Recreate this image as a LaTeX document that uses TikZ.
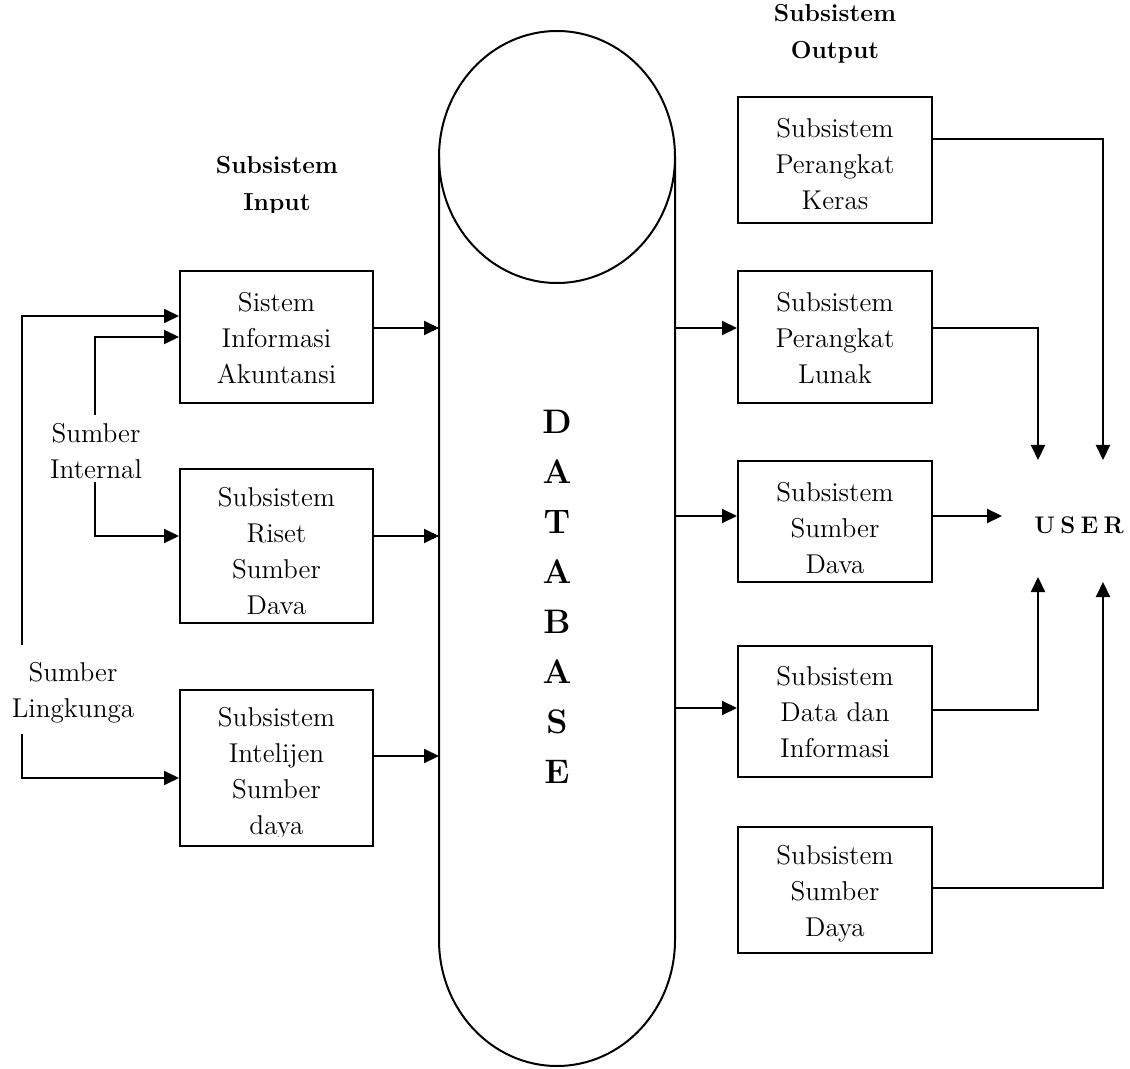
\documentclass[tikz,border=0pt]{standalone}
\usepackage{fontspec}
\usetikzlibrary{arrows.meta}
\begin{document}
\begin{tikzpicture}[x=0.5pt,y=-0.5pt,line width=1pt,
  box/.style={draw,line width=1pt,inner sep=0pt,minimum width=96.5pt},
  txt/.style={align=center,inner sep=0pt,font=\fontsize{13.6}{18}\selectfont},
  ttl/.style={align=center,inner sep=0pt,font=\fontsize{12.3}{18.5}\selectfont\bfseries},
  arr/.style={-{Triangle[length=7.5pt,width=7pt]},line width=1pt},
  ln/.style={line width=1pt}]
\useasboundingbox (0,0) rectangle (1130,1069);

% database cylinder
\draw[ln] (557,157) ellipse [x radius=59pt, y radius=63pt];
\draw[ln] (439,157) -- (439,940) arc[start angle=180,end angle=360,x radius=59pt,y radius=63pt] -- (675,157);
\node[align=center,inner sep=0pt,font=\fontsize{17}{25}\selectfont\bfseries] (db) at (557,597) {D\\A\\T\\A\\B\\A\\S\\E};
\coordinate (dbW) at (439,500);
\coordinate (dbE) at (675,500);

% titles
\begin{scope}
  \clip (150,140) rectangle (400,213);
  \node[ttl] (tin) at (277,186) {Subsistem\\Input};
\end{scope}
\begin{scope}
  \clip (720,0) rectangle (950,66);
  \node[ttl] (tout) at (835,34) {Subsistem\\Output};
\end{scope}

% left boxes
\node[box,minimum height=66pt] (b1) at (276.5,337) {};
\node[txt] (b1t) at (276.5,338) {Sistem\\Informasi\\Akuntansi};
\node[box,minimum height=77pt] (b2) at (276.5,546) {};
\begin{scope}
  \clip (181,470) rectangle (372,613);
  \node[txt] (b2t) at (276.5,554) {Subsistem\\Riset\\Sumber\\Daya};
\end{scope}
\node[box,minimum height=78pt] (b3) at (276.5,768) {};
\begin{scope}
  \clip (181,691) rectangle (372,836);
  \node[txt] (b3t) at (276.5,774) {Subsistem\\Intelijen\\Sumber\\daya};
\end{scope}

% left labels
\node[txt] (si) at (96,451) {Sumber\\Internal};
\node[txt] (sl) at (73,693) {Sumber\\Lingkunga};
\coordinate (oU) at (22,645);
\coordinate (oD) at (22,734);
\coordinate (iU) at (95,415);
\coordinate (iD) at (95,482);

\draw[arr] (oU) |- (b1.west |- 0,316);
\draw[arr] (iU) |- (b1.west |- 0,337);
\draw[arr] (iD) |- (b2.west |- 0,536);
\draw[arr] (oD) |- (b3.west |- 0,778);

\draw[arr] (b1.east |- 0,328) -- (dbW |- 0,328);
\draw[arr] (b2.east |- 0,536) -- (dbW |- 0,536);
\draw[arr] (b3.east |- 0,756) -- (dbW |- 0,756);

% right boxes
\node[box,minimum width=97pt,minimum height=63pt] (rA) at (835,160) {};
\node[txt] (rAt) at (835,164) {Subsistem\\Perangkat\\Keras};
\node[box,minimum width=97pt,minimum height=66pt] (rB) at (835,337) {};
\node[txt] (rBt) at (835,338) {Subsistem\\Perangkat\\Lunak};
\node[box,minimum width=97pt,minimum height=60.5pt] (rC) at (835,521.5) {};
\node[txt] (rCt) at (835,528) {Subsistem\\Sumber\\Dava};
\node[box,minimum width=97pt,minimum height=65.5pt] (rD) at (835,711.5) {};
\node[txt] (rDt) at (835,712) {Subsistem\\Data dan\\Informasi};
\node[box,minimum width=97pt,minimum height=63pt] (rE) at (835,890) {};
\node[txt] (rEt) at (835,894) {Subsistem\\Sumber\\Daya};

\draw[arr] (dbE |- 0,328) -- (rB.west |- 0,328);
\draw[arr] (dbE |- 0,516) -- (rC.west |- 0,516);
\draw[arr] (dbE |- 0,708) -- (rD.west |- 0,708);

% user
\node[inner sep=0pt,font=\fontsize{12}{14}\selectfont\bfseries] (user) at (1079,525) {U\hspace{0.22em}S\hspace{0.22em}E\hspace{0.22em}R};
\coordinate (u1) at (1038,460);
\coordinate (u2) at (1103,460);
\coordinate (u3) at (1038,577);
\coordinate (u4) at (1103,582);
\coordinate (u5) at (1002,516);

\draw[arr] (rA.east |- 0,139) -| (u2);
\draw[arr] (rB.east |- 0,328) -| (u1);
\draw[arr] (rC.east |- 0,516) -- (u5);
\draw[arr] (rD.east |- 0,710) -| (u3);
\draw[arr] (rE.east |- 0,888) -| (u4);
\end{tikzpicture}
\end{document}
